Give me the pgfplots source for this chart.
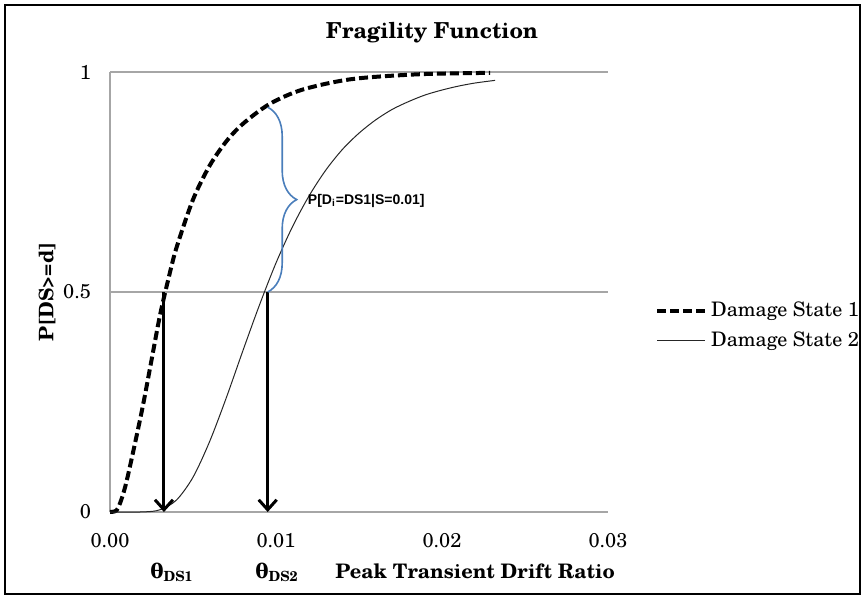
\documentclass[border=0pt]{standalone}
\usepackage{pgfplots}
\pgfplotsset{compat=1.18}
\usepackage{fontspec}
\setmainfont{TeX Gyre Schola}
\newfontfamily\arialfont{Liberation Sans}
\newfontfamily\greekfont{DejaVu Serif}
\usetikzlibrary{arrows.meta,decorations.pathreplacing}
\definecolor{bracecol}{HTML}{4A7EBB}
\definecolor{gridcol}{HTML}{A6A6A6}

\begin{document}
\begin{tikzpicture}
\path[use as bounding box] (0,0) rectangle (432.5pt,299.5pt);
\draw[line width=0.8pt] (2.5pt,2.5pt) rectangle (430pt,297pt);
\begin{axis}[
  at={(55pt,43.5pt)}, anchor=south west,
  width=249pt, height=220pt, scale only axis,
  xmin=0, xmax=0.03, ymin=0, ymax=1,
  axis x line*=bottom, axis y line*=left,
  axis line style={gridcol, line width=0.6pt},
  xtick={0,0.01,0.02,0.03}, xticklabels={0.00,0.01,0.02,0.03},
  ytick={0,0.5,1}, yticklabels={0,0.5,1},
  scaled x ticks=false,
  major tick length=0pt,
  ymajorgrids, major grid style={gridcol, line width=0.6pt},
  xticklabel style={yshift=-7pt},
  yticklabel style={xshift=-6pt},
  tick label style={font=\fontsize{10}{12}\selectfont},
  clip=false,
  legend style={at={(1.094,0.423)}, anchor=west, draw=none, fill=none,
    font=\fontsize{10}{12}\selectfont, inner sep=0pt, row sep=2pt},
  legend cell align=left,
  legend image code/.code={\draw[#1] (0pt,0pt) -- (24pt,0pt);},
]
% Damage State 1
\addplot[black, line width=2pt, dash pattern=on 4.5pt off 2pt, smooth] coordinates {
 (0,0) (0.0004,0.004) (0.0007,0.03) (0.001,0.07) (0.0015,0.155) (0.002,0.245)
 (0.0025,0.345) (0.003,0.445) (0.0035,0.527) (0.004,0.6) (0.005,0.71) (0.006,0.787)
 (0.007,0.842) (0.008,0.882) (0.0096,0.927) (0.0116,0.96) (0.0146,0.984) (0.0187,0.995) (0.0229,0.998)};
\addlegendentry{Damage State 1}
% Damage State 2
\addplot[black!85, line width=0.5pt, smooth] coordinates {
 (0,0) (0.002,0.0002) (0.003,0.005) (0.004,0.027) (0.005,0.079) (0.006,0.16)
 (0.007,0.259) (0.008,0.366) (0.009,0.47) (0.010,0.566) (0.011,0.649) (0.012,0.719)
 (0.013,0.777) (0.014,0.824) (0.015,0.861) (0.016,0.891) (0.017,0.915) (0.018,0.933)
 (0.019,0.948) (0.020,0.959) (0.021,0.968) (0.022,0.975) (0.0232,0.981)};
\addlegendentry{Damage State 2}
% arrows down to the medians
\addplot[forget plot, black, line width=1.5pt, -{Straight Barb[length=5pt,width=9pt]}]
  coordinates {(0.00325,0.5) (0.00325,0)};
\addplot[forget plot, black, line width=1.5pt, -{Straight Barb[length=5pt,width=9pt]}]
  coordinates {(0.0095,0.5) (0.0095,0)};
\draw[bracecol, line width=0.8pt, decorate, decoration={brace, amplitude=14.5pt}]
  (axis cs:0.0095,0.92) -- (axis cs:0.0095,0.5);
\node[anchor=west, inner sep=0pt, font=\arialfont\bfseries\fontsize{7}{8}\selectfont]
  at (axis cs:0.0119,0.707) {P[D\textsubscript{i}=DS1|S=0.01]};
\end{axis}
\node[font=\bfseries\fontsize{11}{13}\selectfont] at (216pt,283pt) {Fragility Function};
\node[rotate=90, font=\bfseries\fontsize{10}{12}\selectfont] at (23.5pt,153.5pt) {P[DS>=d]};
\node[anchor=base west, inner sep=0pt, font=\bfseries\fontsize{10}{12}\selectfont]
  at (167.5pt,10.5pt) {Peak Transient Drift Ratio};
\node[anchor=base, inner sep=0pt, font=\bfseries\fontsize{10}{12}\selectfont]
  at (86pt,10.5pt) {{\greekfont\bfseries θ}\textsubscript{DS1}};
\node[anchor=base, inner sep=0pt, font=\bfseries\fontsize{10}{12}\selectfont]
  at (138.5pt,10.5pt) {{\greekfont\bfseries θ}\textsubscript{DS2}};
\end{tikzpicture}
\end{document}
